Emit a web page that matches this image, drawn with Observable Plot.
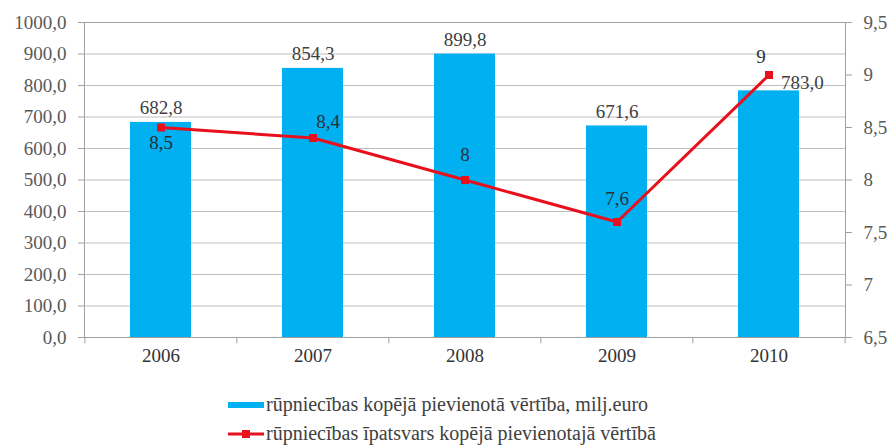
<!DOCTYPE html>
<html>
<head>
<meta charset="utf-8">
<script src="https://cdn.jsdelivr.net/npm/d3@7"></script>
<script src="https://cdn.jsdelivr.net/npm/@observablehq/plot@0.6"></script>
<style>
  body { margin: 0; background: #fff; }
  #wrap { position: relative; width: 892px; height: 445px; font-family: "Liberation Serif", "Times New Roman", Tinos, "Noto Serif", "DejaVu Serif", serif; }
  .leg { position: absolute; left: 228px; display: flex; align-items: center; font-size: 20px; color: #404040; white-space: nowrap; }
  .leg svg { margin-right: 2px; }
</style>
</head>
<body>
<div id="wrap"><div id="chart"></div><div id="legend"></div></div>
<script>
const years = ["2006", "2007", "2008", "2009", "2010"];
const valueAdded = [682.8, 854.3, 899.8, 671.6, 783.0];
const share = [8.5, 8.4, 8, 7.6, 9];
const leftTicks = [0, 100, 200, 300, 400, 500, 600, 700, 800, 900, 1000];
const rightTicks = [6.5, 7, 7.5, 8, 8.5, 9, 9.5];
const seriesNames = [
  "rūpniecības kopējā pievienotā vērtība, milj.euro",
  "rūpniecības īpatsvars kopējā pievienotajā vērtībā"
];

const W = 892, H = 375, mL = 84, mR = 47, mT = 22, mB = 38;
const half = (W - mL - mR) / years.length / 2;
const rMin = 6.5, rMax = 9.5;
const toLeft = v => (v - rMin) / (rMax - rMin) * 1000;
const fromLeft = v => rMin + v / 1000 * (rMax - rMin);
const comma = s => String(s).replace(".", ",");
const FONT = "'Liberation Serif', 'Times New Roman', Tinos, 'Noto Serif', 'DejaVu Serif', serif";
const FS = 19;

const data = years.map((y, i) => ({year: y, value: valueAdded[i], share: share[i], s: toLeft(share[i])}));
const blue = "#00b0f0", red = "#e8101c", lab = "#404040", tickCol = "#595959", grid = "#c0c0c0";

const shareLabel = (yrs, opts) => Plot.text(data.filter(d => yrs.includes(d.year)), {
  x: "year", y: "s", text: d => comma(d.share), fill: "#2a2f3a", fontSize: FS, ...opts
});

const chart = Plot.plot({
  width: W, height: H,
  marginLeft: mL, marginRight: mR, marginTop: mT, marginBottom: mB,
  style: {fontFamily: FONT, fontSize: FS + "px", background: "#fff"},
  x: {domain: years, paddingInner: 0.6, paddingOuter: 0.3, label: null},
  y: {domain: [0, 1000], label: null},
  marks: [
    Plot.gridY(leftTicks, {stroke: grid, strokeOpacity: 1, strokeWidth: 1.2}),
    Plot.frame({stroke: "#a0a0a0", strokeWidth: 1}),
    Plot.ruleX(years, {x: d => d, dx: -half, y1: 0, y2: -20, stroke: "#a0a0a0"}),
    Plot.ruleX(years.slice(-1), {x: d => d, dx: half, y1: 0, y2: -20, stroke: "#a0a0a0"}),
    Plot.barY(data, {x: "year", y: "value", fill: blue}),
    Plot.line(data, {x: "year", y: "s", stroke: red, strokeWidth: 3}),
    Plot.dot(data, {x: "year", y: "s", symbol: "square", r: 4.5, fill: red, stroke: null}),
    Plot.text(data.filter(d => d.year !== "2010"), {x: "year", y: "value", text: d => d.value.toFixed(1).replace(".", ","), fill: lab, fontSize: FS, lineAnchor: "bottom", dy: -8}),
    Plot.text(data.filter(d => d.year === "2010"), {x: "year", y: "value", text: d => d.value.toFixed(1).replace(".", ","), fill: lab, fontSize: FS, textAnchor: "start", dx: 12, dy: -8}),
    shareLabel(["2006"], {dy: 15}),
    shareLabel(["2007"], {dx: 15, dy: -16}),
    shareLabel(["2008"], {dy: -25}),
    shareLabel(["2009"], {dy: -23}),
    shareLabel(["2010"], {dx: -8, dy: -18}),
    Plot.axisY({anchor: "left", ticks: leftTicks, tickFormat: d => d.toFixed(1).replace(".", ","), tickSize: 6, tickPadding: 12, stroke: "#a0a0a0", color: tickCol, fontSize: FS, label: null}),
    Plot.axisY({anchor: "right", ticks: rightTicks.map(toLeft), tickFormat: d => comma(+fromLeft(d).toFixed(1)), tickSize: 6, tickPadding: 12, stroke: "#a0a0a0", color: tickCol, fontSize: FS, label: null}),
    Plot.axisX({tickSize: 0, tickPadding: 11, color: "#333", fontSize: FS, label: null})
  ]
});
document.getElementById("chart").appendChild(chart);

const legend = document.getElementById("legend");
const rows = [
  {top: 393, sw: `<svg width="36" height="10"><rect x="0" y="2" width="36" height="6" fill="${blue}"/></svg>`},
  {top: 422, sw: `<svg width="36" height="12"><line x1="0" y1="6" x2="36" y2="6" stroke="${red}" stroke-width="3"/><rect x="14" y="2" width="8" height="8" fill="${red}"/></svg>`}
];
rows.forEach((r, i) => {
  const div = document.createElement("div");
  div.className = "leg";
  div.style.top = r.top + "px";
  div.innerHTML = r.sw + `<span>${seriesNames[i]}</span>`;
  legend.appendChild(div);
});
</script>
</body>
</html>
